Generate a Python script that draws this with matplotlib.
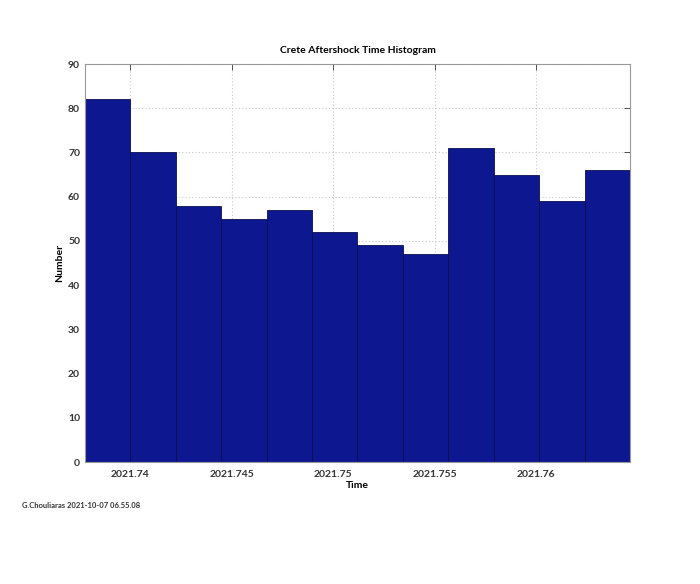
import matplotlib
matplotlib.use("Agg")
import matplotlib.pyplot as plt
import numpy as np

# Data
counts = [82, 70, 58, 55, 57, 52, 49, 47, 71, 65, 59, 66]
bin_start = 2021.73778
bin_width = 0.002236
x_ticks = [2021.74, 2021.745, 2021.75, 2021.755, 2021.76]
x_tick_labels = ["2021.74", "2021.745", "2021.75", "2021.755", "2021.76"]
y_ticks = [0, 10, 20, 30, 40, 50, 60, 70, 80, 90]

edges = bin_start + bin_width * np.arange(len(counts) + 1)

plt.rcParams['font.family'] = ['Lato', 'DejaVu Sans']

fig = plt.figure(figsize=(7, 5.84), dpi=100)
ax = fig.add_axes([0.1214, 0.2089, 0.7786, 0.6815])

ax.bar(edges[:-1], counts, width=bin_width, align='edge',
       color='#0d1790', edgecolor='#0a1050', linewidth=0.6, zorder=2)

ax.set_xlim(edges[0], edges[-1])
ax.set_ylim(0, 90)
ax.set_xticks(x_ticks)
ax.set_xticklabels(x_tick_labels)
ax.set_yticks(y_ticks)

ax.grid(True, linestyle=(0, (1, 2)), color='#c8c8c8', linewidth=0.8, zorder=0)
ax.set_axisbelow(True)

ax.tick_params(axis='both', direction='in', labelsize=7.5, colors='#333333',
               length=4, width=0.6, right=True, top=True)
ax.tick_params(axis='x', pad=6)
for lab in ax.get_xticklabels() + ax.get_yticklabels():
    lab.set_fontweight('bold')
    lab.set_color('#333333')
for sp in ax.spines.values():
    sp.set_color('#999999')
    sp.set_linewidth(0.8)

ax.set_title('Crete Aftershock Time Histogram', fontsize=7.5, fontweight='bold', pad=8)
ax.set_xlabel('Time', fontsize=7.5, fontweight='bold', labelpad=1)
ax.set_ylabel('Number', fontsize=7.5, fontweight='bold', labelpad=3)

fig.text(22 / 700, 1 - 506 / 584, 'G.Chouliaras 2021-10-07 06.55.08', fontsize=5.5,
         fontweight='bold', color='#333333', va='center', ha='left')

fig.savefig('out.png', dpi=100)
